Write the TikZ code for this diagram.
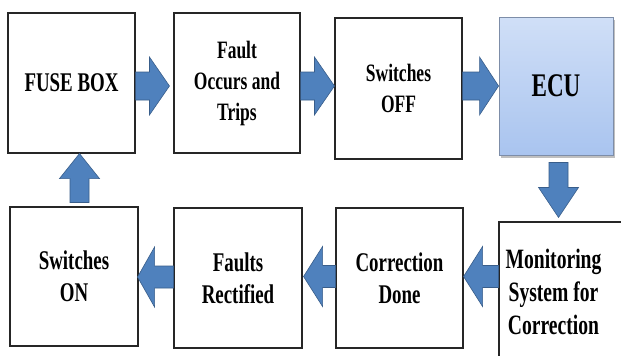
\documentclass[tikz,border=0pt]{standalone}
\usepackage{fontspec}
\setmainfont{Liberation Serif}[FakeStretch=0.7]
\usetikzlibrary{calc,shadows}
\definecolor{arrfill}{HTML}{4F81BD}
\definecolor{arredge}{HTML}{385D8A}
\definecolor{ecutop}{HTML}{D0DFF7}
\definecolor{ecubot}{HTML}{A9C4EF}
\definecolor{ecuedge}{HTML}{7D8DA8}
\newcommand\barrow[5]{%
  \coordinate (bs) at #1; \coordinate (be) at #2;
  \coordinate (bh) at ($(be)!#5!(bs)$);
  \filldraw[arr] ($(bs)!#3!90:(be)$) -- ($(bh)!#3!-90:(bs)$) -- ($(bh)!#4!-90:(bs)$)
    -- (be) -- ($(bh)!#4!90:(bs)$) -- ($(bh)!#3!90:(bs)$) -- ($(bs)!#3!-90:(be)$) -- cycle;}
\begin{document}
\begin{tikzpicture}[x=1pt,y=-1pt,
  box/.style={draw=black!85, line width=1.1pt, fill=white, inner sep=0pt, align=center},
  txt/.style={align=center, font=\bfseries\fontsize{25}{31}\selectfont},
  txtb/.style={align=center, font=\bfseries\fontsize{27}{32}\selectfont},
  arr/.style={fill=arrfill, draw=arredge, line width=0.6pt, line join=miter}]
\useasboundingbox (0,0) rectangle (621,356);
\clip (0,0) rectangle (621,356);
\fill[white] (0,0) rectangle (621,356);
% top row
\node[box, txtb, minimum width=127pt, minimum height=140pt] (fuse) at (71.5,83) {FUSE BOX};
\node[box, txt, minimum width=126pt, minimum height=140pt] (fault) at (237,83) {Fault\\Occurs and\\Trips};
\node[box, txt, minimum width=127pt, minimum height=141pt] (off) at (398.5,88.5) {Switches\\OFF};
\node[box, draw=ecuedge, line width=0.9pt, top color=ecutop, bottom color=ecubot,
  drop shadow={shadow xshift=2pt, shadow yshift=-3pt, fill=black, opacity=0.25},
  minimum width=114pt, minimum height=138pt, align=center,
  font=\bfseries\fontsize{33}{36}\selectfont] (ecu) at (556,86) {\raisebox{-3pt}{ECU}};
% bottom row
\node[box, minimum width=127pt, minimum height=140pt] (mon) at (562.5,292) {};
\node[align=center, font=\bfseries\fontsize{28}{33}\selectfont] (montxt) at ($(mon.center)+(-9,0)$) {Monitoring\\System for\\Correction};
\node[box, txtb, minimum width=127pt, minimum height=140pt] (done) at (399.5,278) {Correction\\Done};
\node[box, txtb, minimum width=128pt, minimum height=140pt] (rect) at (238,278) {Faults\\Rectified};
\node[box, txtb, minimum width=128pt, minimum height=139pt] (on) at (74,276.5) {Switches\\ON};
% arrows
\barrow{($(fuse.east)+(0,3)$)}{($(fault.west)+(-4,3)$)}{14pt}{29pt}{20pt}
\barrow{($(fault.east)+(0,3)$)}{($(off.west)+(0,-2.5)$)}{14pt}{29pt}{20pt}
\barrow{($(off.east)+(0,-2.5)$)}{($(ecu.west)+(0,0)$)}{14pt}{29pt}{19pt}
\barrow{($(ecu.south)+(2.5,7)$)}{($(mon.north)+(-4,-4)$)}{9.5pt}{20pt}{30pt}
\barrow{($(mon.west)+(0,-15.5)$)}{($(done.east)+(0,-1.5)$)}{11pt}{30pt}{19pt}
\barrow{($(done.west)+(0,-1.5)$)}{($(rect.east)+(1,-1.5)$)}{11pt}{30pt}{19pt}
\barrow{($(rect.west)+(0,-1)$)}{($(on.east)+(-1,0.5)$)}{11pt}{30pt}{17pt}
\barrow{($(on.north)+(5.5,-4)$)}{($(fuse.south)+(8,0)$)}{9.5pt}{20pt}{25pt}
\end{tikzpicture}
\end{document}
